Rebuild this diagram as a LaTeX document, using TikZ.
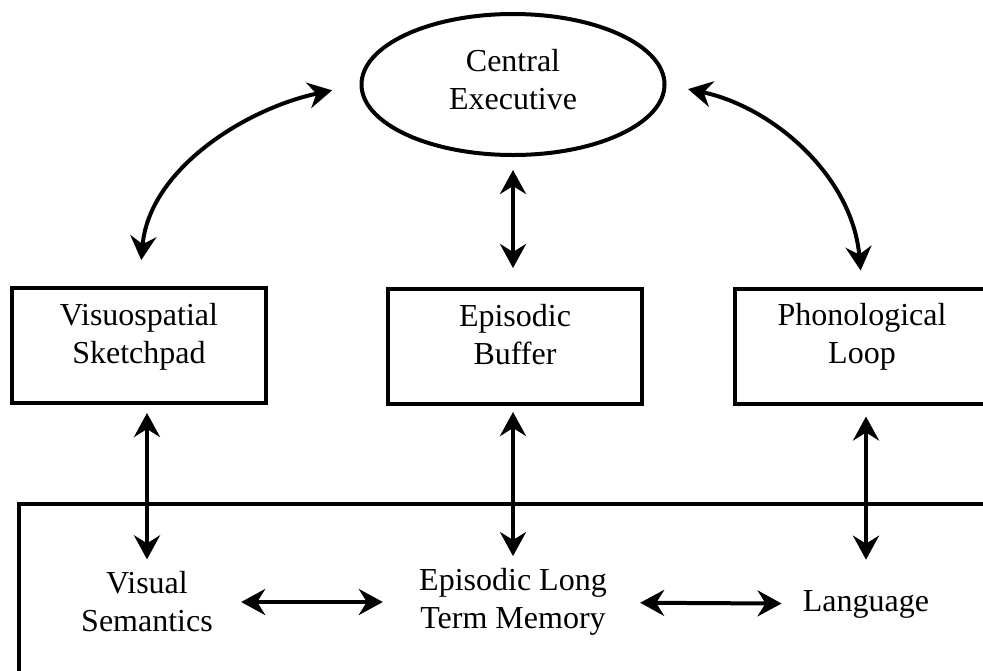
\documentclass[tikz,border=0pt]{standalone}
\usepackage{fontspec}
\setmainfont{Liberation Serif}
\usepackage{tikz}
\usetikzlibrary{arrows.meta}
\usetikzlibrary{shapes.geometric}

\tikzset{
  store/.style={draw,line width=2pt,rectangle,minimum width=127pt,minimum height=57.5pt,
    inner sep=0pt,align=center,text depth=12.5pt},
  exec/.style={draw,line width=2pt,ellipse,minimum width=151.5pt,minimum height=70.5pt,
    inner sep=0pt,align=center,text depth=5.5pt},
  ltm/.style={align=center,inner xsep=14pt,inner ysep=6pt},
  link/.style={<->,line width=2pt}
}

\begin{document}
\begin{tikzpicture}[line cap=round,>={Stealth[length=12pt,width=13pt,inset=4pt]},x=0.5pt,y=-0.5pt,
  font=\fontsize{16}{19}\selectfont]
\clip(0,0) rectangle (983,670);
% working memory
\node[exec] (ce) at (513,84.5) {Central\\Executive};
\node[store] (vss) at (139,345.5) {Visuospatial\\Sketchpad};
\node[store] (eb) at (515,346.5) {Episodic\\Buffer};
\node[store] (pl) at (862,346) {Phonological\\Loop};
% long term memory
\draw [line width=2pt] (19,504) rectangle (1100,800);
\node[ltm] (vsem) at (147,602) {Visual\\Semantics};
\node[ltm] (eltm) at (513,602) {Episodic Long\\Term Memory};
\node[ltm] (lang) at (866,604) {Language};
% links
\draw [link,shorten <=13pt,shorten >=14pt] (vss.north) to[out=85,in=192] (ce.west);
\draw [link,shorten <=11pt,shorten >=8pt] (ce.east) to[out=-12,in=95] (pl.north);
\draw [link,shorten <=6.5pt,shorten >=9.5pt] (ce.south) -- (ce.south |- eb.north);
\draw [link,shorten <=4pt] (vsem.north |- vss.south) -- (vsem.north);
\draw [link,shorten <=3pt] (eltm.north |- eb.south) -- (eltm.north);
\draw [link,shorten <=5.5pt,shorten >=9pt] (lang.north |- pl.south) -- (lang.north);
\draw [link,shorten >=4pt] (vsem) -- (eltm);
\draw [link,shorten <=2.5pt,shorten >=-3.5pt] (eltm) -- (lang);
\end{tikzpicture}
\end{document}
